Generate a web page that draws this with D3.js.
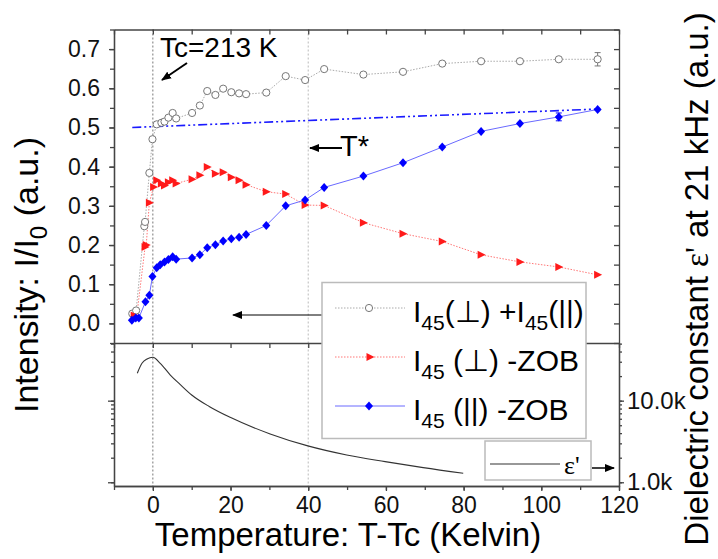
<!DOCTYPE html>
<html>
<head>
<meta charset="utf-8">
<script src="https://cdn.jsdelivr.net/npm/d3@7"></script>
<style>
  body { margin: 0; background: #fff; }
  svg { font-family: "Liberation Sans", Arial, sans-serif; }
  .axis path, .axis line { stroke: #444; stroke-width: 1.3; }
  .axis text { fill: #111; }
</style>
</head>
<body>
<div id="chart"></div>
<script>
// sum I45(perp) + I45(par), open grey circles
const sumT = [-5.3, -4.3, -2.2, -2.0, -0.9, -0.1, 1.0, 2.2, 3.0, 4.0, 5.1, 6.0, 10.1, 12.1, 14.0, 16.1, 18.1, 20.2, 22.2, 24.0, 29.2, 34.2, 39.2, 44.1, 54.2, 64.4, 74.5, 84.5, 94.5, 104.5, 114.5];
const sumV = [0.025, 0.033, 0.248, 0.259, 0.384, 0.470, 0.508, 0.512, 0.515, 0.525, 0.537, 0.523, 0.537, 0.556, 0.593, 0.583, 0.599, 0.590, 0.587, 0.585, 0.589, 0.631, 0.621, 0.649, 0.635, 0.642, 0.663, 0.669, 0.669, 0.674, 0.674];
// I45(perp) - ZOB, red triangles
const perpT = [-4.8, -4.2, -2.0, -1.7, -0.9, 0.2, 1.0, 2.2, 3.0, 4.0, 5.1, 6.0, 10.1, 12.1, 14.0, 16.1, 18.1, 20.2, 22.2, 24.0, 29.2, 34.2, 39.2, 44.1, 54.2, 64.4, 74.5, 84.5, 94.5, 104.5, 114.5];
const perpV = [0.020, 0.015, 0.195, 0.200, 0.308, 0.348, 0.365, 0.357, 0.352, 0.360, 0.365, 0.357, 0.368, 0.378, 0.399, 0.382, 0.386, 0.373, 0.365, 0.354, 0.336, 0.330, 0.302, 0.301, 0.257, 0.229, 0.209, 0.175, 0.157, 0.144, 0.124];
// I45(par) - ZOB, blue diamonds
const parT = [-5.4, -4.4, -3.6, -1.9, -0.9, -0.1, 1.0, 1.9, 3.0, 4.0, 5.1, 6.0, 10.1, 12.1, 14.0, 16.1, 18.1, 20.2, 22.2, 24.0, 29.2, 34.2, 39.2, 44.1, 54.2, 64.4, 74.5, 84.5, 94.5, 104.5, 114.5];
const parV = [0.008, 0.014, 0.014, 0.055, 0.072, 0.120, 0.142, 0.150, 0.157, 0.163, 0.170, 0.164, 0.167, 0.175, 0.193, 0.201, 0.210, 0.216, 0.220, 0.227, 0.250, 0.300, 0.315, 0.347, 0.376, 0.410, 0.450, 0.490, 0.510, 0.527, 0.546];
// T* guide line (dash-dot-dot)
const guideT = [-5.3, 114.5];
const guideV = [0.500, 0.547];
// dielectric constant eps' at 21 kHz
const epsT = [-4.0, -2.8, -1.5, 0, 1.9, 4.5, 7.0, 10, 14.5, 19.9, 30.2, 39.9, 49.9, 59.8, 69.6, 79.9];
const epsV = [21700, 28700, 32400, 34000, 28700, 20600, 15850, 11750, 8500, 6250, 3910, 2790, 2160, 1790, 1510, 1290];

const xMajor = [0, 20, 40, 60, 80, 100, 120];
const yMajor = [0.0, 0.1, 0.2, 0.3, 0.4, 0.5, 0.6, 0.7];
const epsLabels = [1000, 10000];

const W = 718, H = 559;
const L = 114, R = 619, TOP = 29.5, MID = 343, BOT = 486;

const svg = d3.select("#chart").append("svg")
    .attr("width", W).attr("height", H);

const x = d3.scaleLinear().domain([-10, 120]).range([L, R]);
const y = d3.scaleLinear().domain([-0.05, 0.75]).range([MID, TOP]);
const yE = d3.scaleLog().domain([900, 50900]).range([BOT, MID]);

const xMinor = d3.range(-10, 121, 10);
const yMinor = d3.range(-0.05, 0.751, 0.05);
const eMinor = [];
[1000, 10000].forEach(function(d) { for (let k = 1; k < 10; k++) if (d * k < 50900) eMinor.push(d * k); });

svg.append("defs").append("marker")
    .attr("id", "head").attr("viewBox", "0 0 10 10")
    .attr("refX", 9).attr("refY", 5)
    .attr("markerWidth", 10).attr("markerHeight", 10)
    .attr("markerUnits", "userSpaceOnUse")
    .attr("orient", "auto")
    .append("path").attr("d", "M0,1 L10,5 L0,9 Z").attr("fill", "#000");

// vertical guides at Tc and T*
svg.append("line").attr("x1", x(0)).attr("x2", x(0)).attr("y1", TOP).attr("y2", BOT)
    .attr("stroke", "#555").attr("stroke-width", 0.8).attr("stroke-dasharray", "2,2");
svg.append("line").attr("x1", x(40)).attr("x2", x(40)).attr("y1", TOP).attr("y2", BOT)
    .attr("stroke", "#aaa").attr("stroke-width", 0.8).attr("stroke-dasharray", "2,2");

// axes
function noLabel() { return ""; }
// top
svg.append("g").attr("class", "axis").attr("transform", `translate(0,${TOP})`)
    .call(d3.axisBottom(x).tickValues(xMinor).tickFormat(noLabel).tickSize(5).tickSizeOuter(0));
// divider between panels
svg.append("g").attr("class", "axis").attr("transform", `translate(0,${MID})`)
    .call(d3.axisBottom(x).tickValues(xMinor).tickFormat(noLabel).tickSize(5).tickSizeOuter(0));
// bottom
svg.append("g").attr("class", "axis").attr("transform", `translate(0,${BOT})`)
    .call(d3.axisBottom(x).tickValues(xMinor).tickFormat(noLabel).tickSize(4).tickSizeOuter(0));
svg.append("g").attr("class", "axis").attr("transform", `translate(0,${BOT})`)
    .call(d3.axisBottom(x).tickValues(xMajor).tickFormat(d3.format("d")).tickSize(5).tickSizeOuter(0).tickPadding(6))
    .selectAll("text").style("font-size", "23px");

// upper left
svg.append("g").attr("class", "axis").attr("transform", `translate(${L},0)`)
    .call(d3.axisLeft(y).tickValues(yMinor).tickFormat(noLabel).tickSize(4).tickSizeOuter(0));
svg.append("g").attr("class", "axis").attr("transform", `translate(${L},0)`)
    .call(d3.axisLeft(y).tickValues(yMajor).tickFormat(d3.format(".1f")).tickSize(5).tickSizeOuter(0).tickPadding(9))
    .selectAll("text").style("font-size", "23px");
// upper right
svg.append("g").attr("class", "axis").attr("transform", `translate(${R},0)`)
    .call(d3.axisRight(y).tickValues(yMinor).tickFormat(noLabel).tickSize(-5).tickSizeOuter(0));

// lower left
svg.append("g").attr("class", "axis").attr("transform", `translate(${L},0)`)
    .call(d3.axisLeft(yE).tickValues(eMinor).tickFormat(noLabel).tickSize(3).tickSizeOuter(0));
svg.append("g").attr("class", "axis").attr("transform", `translate(${L},0)`)
    .call(d3.axisLeft(yE).tickValues(epsLabels).tickFormat(noLabel).tickSize(6).tickSizeOuter(0));
// lower right
svg.append("g").attr("class", "axis").attr("transform", `translate(${R},0)`)
    .call(d3.axisRight(yE).tickValues(eMinor).tickFormat(noLabel).tickSize(3).tickSizeOuter(0));
svg.append("g").attr("class", "axis").attr("transform", `translate(${R},0)`)
    .call(d3.axisRight(yE).tickValues(epsLabels).tickFormat(function(d) { return (d / 1000).toFixed(1) + "k"; })
        .tickSize(5).tickSizeOuter(0).tickPadding(3))
    .selectAll("text").style("font-size", "24px");

// T* guide line
const guide = d3.range(guideT.length).map(function(i) { return [guideT[i], guideV[i]]; });
svg.append("path").datum(guide)
    .attr("d", d3.line().x(function(d) { return x(d[0]); }).y(function(d) { return y(d[1]); }))
    .attr("fill", "none").attr("stroke", "#1a1aff").attr("stroke-width", 1.6)
    .attr("stroke-dasharray", "9,3,2,3,2,3");

function pairs(ts, vs) { return ts.map(function(t, i) { return [t, vs[i]]; }); }
const line = d3.line().x(function(d) { return x(d[0]); }).y(function(d) { return y(d[1]); });

const sumD = pairs(sumT, sumV), perpD = pairs(perpT, perpV), parD = pairs(parT, parV);

svg.append("path").datum(sumD).attr("d", line).attr("fill", "none")
    .attr("stroke", "#aaa").attr("stroke-width", 1).attr("stroke-dasharray", "1.5,1.5");
svg.append("path").datum(perpD).attr("d", line).attr("fill", "none")
    .attr("stroke", "#f77").attr("stroke-width", 1).attr("stroke-dasharray", "1.5,1.5");
svg.append("path").datum(parD).attr("d", line).attr("fill", "none")
    .attr("stroke", "#6a6aff").attr("stroke-width", 1);

// error bars on last points
function errBar(t, v, e, col) {
    const g = svg.append("g").attr("stroke", col).attr("stroke-width", 1);
    g.append("line").attr("x1", x(t)).attr("x2", x(t)).attr("y1", y(v - e)).attr("y2", y(v + e));
    g.append("line").attr("x1", x(t) - 3).attr("x2", x(t) + 3).attr("y1", y(v - e)).attr("y2", y(v - e));
    g.append("line").attr("x1", x(t) - 3).attr("x2", x(t) + 3).attr("y1", y(v + e)).attr("y2", y(v + e));
}
errBar(sumT[sumT.length - 1], sumV[sumV.length - 1], 0.017, "#777");
errBar(parT[parT.length - 2], parV[parV.length - 2], 0.010, "#00f");

const tri = "M-3.5,-4 L4.5,0 L-3.5,4 Z";
const dia = "M0,-4.5 L4,0 L0,4.5 L-4,0 Z";

svg.append("g").selectAll("circle").data(sumD).join("circle")
    .attr("cx", function(d) { return x(d[0]); }).attr("cy", function(d) { return y(d[1]); })
    .attr("r", 3.6).attr("fill", "#fff").attr("stroke", "#777").attr("stroke-width", 1);
svg.append("g").selectAll("path").data(perpD).join("path")
    .attr("d", tri).attr("transform", function(d) { return `translate(${x(d[0])},${y(d[1])})`; })
    .attr("fill", "#ff1a1a");
svg.append("g").selectAll("path").data(parD).join("path")
    .attr("d", dia).attr("transform", function(d) { return `translate(${x(d[0])},${y(d[1])})`; })
    .attr("fill", "#0000ff");

// dielectric curve
const epsD = pairs(epsT, epsV);
svg.append("path").datum(epsD)
    .attr("d", d3.line().curve(d3.curveMonotoneX).x(function(d) { return x(d[0]); }).y(function(d) { return yE(d[1]); }))
    .attr("fill", "none").attr("stroke", "#333").attr("stroke-width", 1.1);

// annotations
svg.append("text").attr("x", 160).attr("y", 57).attr("font-size", 28).text("Tc=213 K");
svg.append("line").attr("x1", 187).attr("y1", 63).attr("x2", 162).attr("y2", 80)
    .attr("stroke", "#000").attr("stroke-width", 2).attr("marker-end", "url(#head)");
svg.append("text").attr("x", 340).attr("y", 156).attr("font-size", 29).text("T*");
svg.append("line").attr("x1", 342).attr("y1", 148).attr("x2", 310).attr("y2", 148)
    .attr("stroke", "#000").attr("stroke-width", 2).attr("marker-end", "url(#head)");
svg.append("line").attr("x1", 322).attr("y1", 315).attr("x2", 233).attr("y2", 315)
    .attr("stroke", "#000").attr("stroke-width", 1).attr("marker-end", "url(#head)");

// legend
const leg = svg.append("g");
leg.append("rect").attr("x", 322).attr("y", 282.5).attr("width", 264).attr("height", 156)
    .attr("fill", "#fff").attr("stroke", "#bbb").attr("stroke-width", 1.5);
const rows = [308, 357, 406];
leg.append("line").attr("x1", 335).attr("x2", 405).attr("y1", rows[0]).attr("y2", rows[0])
    .attr("stroke", "#aaa").attr("stroke-dasharray", "1.5,1.5");
leg.append("circle").attr("cx", 369).attr("cy", rows[0]).attr("r", 3.6)
    .attr("fill", "#fff").attr("stroke", "#777");
leg.append("line").attr("x1", 335).attr("x2", 405).attr("y1", rows[1]).attr("y2", rows[1])
    .attr("stroke", "#f77").attr("stroke-dasharray", "1.5,1.5");
leg.append("path").attr("d", tri).attr("transform", `translate(370,${rows[1]})`).attr("fill", "#ff1a1a");
leg.append("line").attr("x1", 335).attr("x2", 405).attr("y1", rows[2]).attr("y2", rows[2])
    .attr("stroke", "#6a6aff");
leg.append("path").attr("d", dia).attr("transform", `translate(369,${rows[2]})`).attr("fill", "#0000ff");

function legText(yy, parts) {
    const t = leg.append("text").attr("x", 413).attr("y", yy + 14).attr("font-size", 30);
    parts.forEach(function(p) {
        if (p.sub) t.append("tspan").attr("font-size", 21).attr("dy", 8).text(p.s);
        else t.append("tspan").attr("dy", p.back ? -8 : 0).text(p.s);
    });
}
legText(rows[0], [{s: "I"}, {s: "45", sub: true}, {s: "(\u22A5) +I", back: true}, {s: "45", sub: true}, {s: "(||)", back: true}]);
legText(rows[1], [{s: "I"}, {s: "45", sub: true}, {s: " (\u22A5) -ZOB", back: true}]);
legText(rows[2], [{s: "I"}, {s: "45", sub: true}, {s: " (||) -ZOB", back: true}]);

// eps legend
const leg2 = svg.append("g");
leg2.append("rect").attr("x", 485).attr("y", 441).attr("width", 106).attr("height", 39)
    .attr("fill", "#fff").attr("stroke", "#bbb").attr("stroke-width", 1.5);
leg2.append("line").attr("x1", 490).attr("x2", 560).attr("y1", 464).attr("y2", 464)
    .attr("stroke", "#333").attr("stroke-width", 1.1);
leg2.append("text").attr("x", 564).attr("y", 474).attr("font-size", 26)
    .attr("font-family", "'Liberation Serif', 'Times New Roman', serif").text("\u03B5'");
svg.append("line").attr("x1", 592).attr("x2", 614).attr("y1", 468).attr("y2", 468)
    .attr("stroke", "#000").attr("stroke-width", 1.5).attr("marker-end", "url(#head)");

// axis titles
svg.append("text").attr("x", 348).attr("y", 546).attr("text-anchor", "middle")
    .attr("font-size", 33).text("Temperature: T-Tc (Kelvin)");
const lt = svg.append("text").attr("transform", "translate(38,275) rotate(-90)")
    .attr("text-anchor", "middle").attr("font-size", 34);
lt.append("tspan").text("Intensity: I/I");
lt.append("tspan").attr("font-size", 24).attr("dy", 9).text("0");
lt.append("tspan").attr("dy", -9).text(" (a.u.)");
const rt = svg.append("text").attr("transform", "translate(708,279) rotate(-90)")
    .attr("text-anchor", "middle").attr("font-size", 33);
rt.append("tspan").text("Dielectric constant ");
rt.append("tspan").attr("font-family", "'Liberation Serif', 'Times New Roman', serif").text("\u03B5'");
rt.append("tspan").text(" at 21 kHz (a.u.)");
</script>
</body>
</html>
